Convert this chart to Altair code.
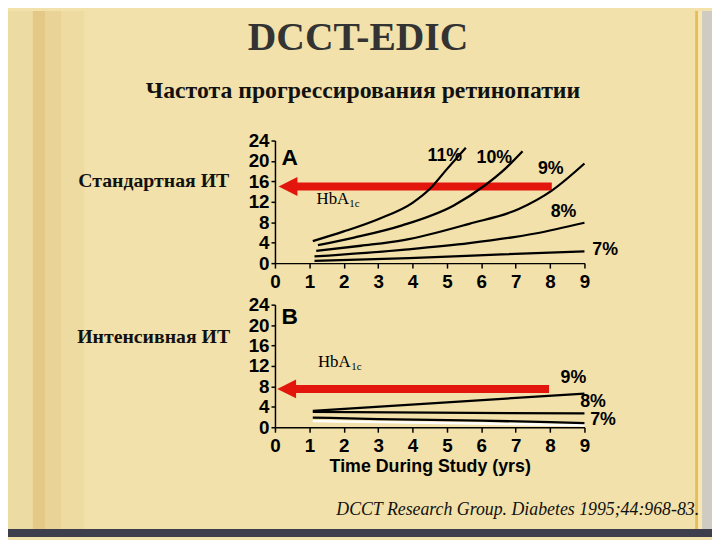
import altair as alt
import pandas as pd

# ---------------- data ----------------
years = [0, 1, 2, 3, 4, 5, 6, 7, 8, 9]
y_ticks = [0, 4, 8, 12, 16, 20, 24]

# Panel A (standard therapy) curves, by HbA1c level
a_names = ["11%", "10%", "9%", "8%", "7%"]
a11_x = [1.1, 2.0, 3.0, 4.0, 4.5, 5.0, 5.55]
a11_y = [4.3, 6.2, 8.6, 11.8, 14.5, 18.4, 22.6]
a10_x = [1.25, 2.3, 3.7, 5.2, 6.1, 6.7, 7.2]
a10_y = [3.5, 5.0, 7.4, 11.3, 15.2, 18.5, 21.9]
a9_x = [1.2, 2.5, 3.74, 5.65, 7.09, 8.05, 9.0]
a9_y = [2.4, 3.4, 4.5, 7.7, 10.6, 14.2, 19.5]
a8_x = [1.15, 3.7, 5.65, 7.57, 9.0]
a8_y = [1.3, 2.6, 3.9, 5.8, 7.9]
a7_x = [1.15, 3.9, 6.6, 9.0]
a7_y = [0.45, 1.0, 1.7, 2.3]

# Panel B (intensive therapy) curves
b_names = ["9%", "8%", "7%"]
b9_x = [1.1, 9.0]
b9_y = [3.2, 6.6]
b8_x = [1.1, 9.0]
b8_y = [3.0, 2.7]
b7_x = [1.1, 3.0, 6.0, 8.0, 9.0]
b7_y = [1.9, 1.6, 1.3, 1.0, 0.8]
bw_x = [1.1, 9.0]
bw_y = [1.2, 0.4]

# curve labels
a_lab = ["11%", "10%", "9%", "8%", "7%"]
a_lab_x = [4.94, 6.38, 8.02, 8.39, 9.6]
a_lab_y = [20.9, 20.5, 18.4, 9.9, 2.5]
b_lab = ["9%", "8%", "7%"]
b_lab_x = [8.68, 9.25, 9.54]
b_lab_y = [9.7, 5.0, 1.35]

# red arrows (tail -> tip), one per panel
arrow_tail = [8.05, 7.97]
arrow_tip = [0.12, 0.08]
arrow_y = [15.0, 7.5]

# panel letters and HbA1c annotation
letters = ["A", "B"]
letter_x = [0.43, 0.43]
letter_y = [20.5, 21.5]
hba_x = [1.21, 1.25]
hba_y = [11.6, 11.8]
sub_x = [2.16, 2.22]
sub_y = [11.0, 11.2]


def long(names, xs, ys):
    rows = []
    for n, xx, yy in zip(names, xs, ys):
        for a, b in zip(xx, yy):
            rows.append({"series": n, "x": a, "y": b})
    return pd.DataFrame(rows)


dfA = long(a_names, [a11_x, a10_x, a9_x, a8_x, a7_x], [a11_y, a10_y, a9_y, a8_y, a7_y])
dfB = long(b_names, [b9_x, b8_x, b7_x], [b9_y, b8_y, b7_y])
dfBw = long(["white"], [bw_x], [bw_y])
labA = pd.DataFrame({"t": a_lab, "x": a_lab_x, "y": a_lab_y})
labB = pd.DataFrame({"t": b_lab, "x": b_lab_x, "y": b_lab_y})

one = pd.DataFrame({"k": [0]})

W, H = 313, 124
RED = "#E3160E"
BG = "#F2E1AA"
SANS = "Liberation Sans"
SERIF = "Liberation Serif"

xscale = alt.Scale(domain=[0, 9], nice=False, zero=False)
yscale = alt.Scale(domain=[0, 24], nice=False)


def xaxis():
    return alt.Axis(values=years, labelFont=SANS, labelFontWeight="bold", labelFontSize=19,
                    labelColor="black", domainColor="black", domainWidth=1.5, tickColor="black",
                    tickWidth=1.5, tickSize=5, labelPadding=5, grid=False, labelFlush=False,
                    labelOverlap=False, titleFont=SANS, titleFontSize=18, titleFontWeight="bold",
                    titleColor="black", titlePadding=2, zindex=1)


def yaxis():
    return alt.Axis(values=y_ticks, labelFont=SANS, labelFontWeight="bold", labelFontSize=19,
                    labelColor="black", domainColor="black", domainWidth=1.5, tickColor="black",
                    tickWidth=1.5, tickSize=4, labelPadding=2, grid=False, labelFlush=False,
                    labelOverlap=False, title=None, zindex=1)


def X(title=None):
    return alt.X("x:Q", scale=xscale, axis=xaxis(), title=title)


def Y():
    return alt.Y("y:Q", scale=yscale, axis=yaxis())


def vrect(x0, x1, y0, y1, color):
    return alt.Chart(one).mark_rect(color=color).encode(
        x=alt.value(x0), x2=alt.value(x1), y=alt.value(y0), y2=alt.value(y1))


def vtext(text, x, y, **kw):
    return alt.Chart(one).mark_text(**kw).encode(
        x=alt.value(x), y=alt.value(y), text=alt.value(text))


def panel(i, df, labs, title=None, extra=None, white=None):
    arrow = pd.DataFrame({"tail": [arrow_tail[i]], "tip": [arrow_tip[i]], "y": [arrow_y[i]]})
    shaft = alt.Chart(arrow).transform_calculate(x="datum.tip + 0.26").mark_rule(
        color=RED, strokeWidth=8).encode(x=X(title), x2=alt.X2("tail:Q"), y=Y())
    head = alt.Chart(arrow).transform_calculate(x="datum.tip + 0.26").mark_point(
        shape="M-1,0L1,-1L1,1Z", filled=True, fill=RED, opacity=1, size=361, strokeWidth=0
    ).encode(x=X(title), y=Y())
    layers = [shaft, head]
    if white is not None:
        layers.append(alt.Chart(white).mark_line(color="white", strokeWidth=2.5).encode(
            x=X(title), y=Y(), detail="series:N"))
    layers.append(alt.Chart(df).mark_line(color="black", strokeWidth=2.3, interpolate="monotone").encode(
        x=X(title), y=Y(), detail="series:N"))
    layers.append(alt.Chart(labs).mark_text(font=SANS, fontWeight="bold", fontSize=18, color="black").encode(
        x=X(title), y=Y(), text="t:N"))
    let = pd.DataFrame({"t": [letters[i]], "x": [letter_x[i]], "y": [letter_y[i]]})
    layers.append(alt.Chart(let).mark_text(font=SANS, fontWeight="bold", fontSize=23, color="black").encode(
        x=X(title), y=Y(), text="t:N"))
    hb = pd.DataFrame({"t": ["HbA"], "x": [hba_x[i]], "y": [hba_y[i]]})
    layers.append(alt.Chart(hb).mark_text(font=SERIF, fontSize=17, color="black", align="left",
                                          baseline="alphabetic").encode(x=X(title), y=Y(), text="t:N"))
    sb = pd.DataFrame({"t": ["1c"], "x": [sub_x[i]], "y": [sub_y[i]]})
    layers.append(alt.Chart(sb).mark_text(font=SERIF, fontSize=11, color="black", align="left",
                                          baseline="alphabetic").encode(x=X(title), y=Y(), text="t:N"))
    base = extra if extra is not None else []
    return alt.layer(*(base + layers)).properties(width=W, height=H)


# decorative page background (pixel offsets relative to panel A origin)
deco = [
    vrect(-270, 442, -131, 401, BG),
    vrect(-270, -245, -131, 401, "#ECDBA3"),
    vrect(-245, -232, -131, 401, "#E4C887"),
    vrect(-232, -216, -131, 401, "#EAD396"),
    vrect(-216, -193, -131, 401, "#EEDBA2"),
    vrect(425, 428, -131, 401, "#E9BC55"),
    vrect(428, 432, -131, 401, "#F6E7B5"),
    vrect(432, 442, -131, 401, "#CFCBC2"),
    vrect(-270, 442, 393, 401, "#3D404C"),
    vtext("DCCT-EDIC", 84, -92, font=SERIF, fontWeight="bold", fontSize=40, color="#333333",
          align="center", baseline="alphabetic"),
    vtext("Частота прогрессирования ретинопатии", 89, -43, font=SERIF, fontWeight="bold",
          fontSize=24, color="#111111", align="center", baseline="alphabetic"),
    vtext("Стандартная ИТ", -199, 47, font=SERIF, fontWeight="bold", fontSize=20,
          color="#111111", align="left", baseline="alphabetic"),
]

decoB = [
    vtext("Интенсивная ИТ", -200, 39, font=SERIF, fontWeight="bold", fontSize=20,
          color="#111111", align="left", baseline="alphabetic"),
    vtext("DCCT Research Group. Diabetes 1995;44:968-83.", 429, 213, font=SERIF,
          fontStyle="italic", fontSize=18, color="#111111", align="right", baseline="alphabetic"),
]

pA = panel(0, dfA, labA, title=None, extra=deco)
pB = panel(1, dfB, labB, title="Time During Study (yrs)", extra=decoB, white=dfBw)

chart = alt.vconcat(pA, pB, spacing=42, bounds="flush").properties(padding=0).configure(
    background=BG).configure_view(stroke=None)

chart.save("out.html", embed_options={"renderer": "svg", "actions": False})
